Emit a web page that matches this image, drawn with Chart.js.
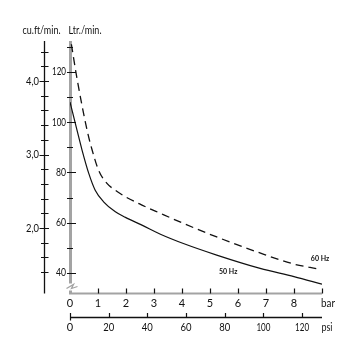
<!DOCTYPE html>
<html><head><meta charset="utf-8">
<script src="https://cdn.jsdelivr.net/npm/chart.js@4"></script>
<style>html,body{margin:0;padding:0;background:#fff}canvas{display:block}</style>
</head><body>
<canvas id="c" width="361" height="359"></canvas>
<script>
// ---- data ----
const barTicks = [0,1,2,3,4,5,6,7,8];
const psiTicks = [0,20,40,60,80,100,120];
const ltrMajor = [40,60,80,100,120];
const ltrMinor = [50,70,90,110,130];
const cuMajor = [2.0,3.0,4.0];
const cuMinor = [1.4,1.6,1.8,2.2,2.4,2.6,2.8,3.2,3.4,3.6,3.8,4.2,4.4];
const bar50  = [0, 0.25, 0.43, 0.67, 0.9, 1.2, 1.62, 1.98, 2.57, 3.23, 4.05, 5.24, 6.79, 8, 9];
const flow50 = [108, 96.8, 88.9, 79.6, 72.9, 68.3, 64.3, 62.1, 59.0, 55.4, 51.7, 47.1, 41.8, 38.5, 35.5];
const bar60  = [0.05, 0.24, 0.61, 0.79, 1.02, 1.32, 1.62, 1.98, 2.57, 3.23, 4.05, 5.24, 6.67, 8, 8.86];
const flow60 = [131, 118, 96.8, 88.9, 80.9, 75.6, 72.9, 70.3, 67.0, 63.7, 59.7, 54.3, 48.4, 43.5, 41.6];
const seriesLabels = ['50 Hz','60 Hz'];
const axisTitles = ['cu.ft/min.','Ltr./min.','bar','psi'];

const FONT = 'Lato, "DejaVu Sans", sans-serif';

const axesPlugin = {
  id:'axes',
  beforeDatasetsDraw(chart){
    const ctx = chart.ctx;
    const x = chart.scales.x, y = chart.scales.y, xp = chart.scales.xPsi, yc = chart.scales.yCu;
    const ca = chart.chartArea;
    const x0 = x.getPixelForValue(0) + 0.5;
    const yb = ca.bottom + 0.5;
    ctx.save();
    // Ltr axis (gray) with break
    ctx.strokeStyle = '#a3a3a3';
    ctx.lineWidth = 3;
    ctx.beginPath();
    ctx.moveTo(x0, ca.top); ctx.lineTo(x0, yb - 10);
    ctx.stroke();
    ctx.lineWidth = 1.3;
    ctx.beginPath();
    ctx.moveTo(x0 - 4, yb - 5); ctx.lineTo(x0 + 3, yb - 9); ctx.lineTo(x0 + 1, yb - 5); ctx.lineTo(x0 + 7, yb - 7);
    ctx.stroke();
    ctx.lineWidth = 3;
    ctx.beginPath();
    ctx.moveTo(x0, yb - 3); ctx.lineTo(x0, yb);
    ctx.stroke();
    // bar axis (gray)
    ctx.lineWidth = 2;
    ctx.beginPath();
    ctx.moveTo(x0 - 1.5, yb); ctx.lineTo(x.getPixelForValue(9), yb);
    ctx.stroke();

    ctx.strokeStyle = '#111';
    ctx.fillStyle = '#111';
    ctx.lineWidth = 1.2;
    // Ltr ticks
    ctx.beginPath();
    ltrMajor.forEach(v => { const p = Math.round(y.getPixelForValue(v)) + 0.5; ctx.moveTo(x0 - 3.5, p); ctx.lineTo(x0 + 5.5, p); });
    ltrMinor.forEach(v => { const p = Math.round(y.getPixelForValue(v)) + 0.5; ctx.moveTo(x0 - 3.5, p); ctx.lineTo(x0 + 2.5, p); });
    ctx.stroke();
    ctx.font = '11px ' + FONT;
    ctx.textAlign = 'right'; ctx.textBaseline = 'middle';
    ltrMajor.forEach(v => ctx.fillText(String(v), x0 - 4.5, y.getPixelForValue(v), v >= 100 ? 14 : 10));

    // cu.ft axis
    const xc = 44.5;
    ctx.lineWidth = 1.3;
    ctx.beginPath();
    ctx.moveTo(xc, ca.top); ctx.lineTo(xc, yb);
    ctx.stroke();
    ctx.lineWidth = 1.2;
    ctx.beginPath();
    cuMajor.forEach(v => { const p = Math.round(yc.getPixelForValue(v)) + 0.5; ctx.moveTo(xc - 5, p); ctx.lineTo(xc + 4.5, p); });
    cuMinor.forEach(v => { const p = Math.round(yc.getPixelForValue(v)) + 0.5; ctx.moveTo(xc - 3.5, p); ctx.lineTo(xc + 4, p); });
    ctx.stroke();
    cuMajor.forEach(v => ctx.fillText(v.toFixed(1).replace('.', ','), xc - 5.5, yc.getPixelForValue(v), 13));

    // titles
    ctx.textAlign = 'center';
    ctx.fillText(axisTitles[0], 41.5, 30, 38);
    ctx.fillText(axisTitles[1], 85, 30, 33);

    // bar ticks
    ctx.beginPath();
    barTicks.concat([9]).forEach(v => { if (v === 0) return; const p = Math.round(x.getPixelForValue(v)) + 0.5; ctx.moveTo(p, yb - 5); ctx.lineTo(p, yb); });
    ctx.stroke();
    ctx.textBaseline = 'middle';
    barTicks.forEach(v => ctx.fillText(String(v), x.getPixelForValue(v), yb + 10));
    ctx.fillText(axisTitles[2], x.getPixelForValue(9) + 6, yb + 10, 14);

    // psi axis
    const yp = yb + 24;
    ctx.lineWidth = 1.3;
    ctx.beginPath();
    ctx.moveTo(xp.getPixelForValue(0), yp); ctx.lineTo(xp.getPixelForValue(xp.max), yp);
    ctx.stroke();
    ctx.lineWidth = 1.2;
    ctx.beginPath();
    psiTicks.forEach(v => { const p = Math.round(xp.getPixelForValue(v)) + 0.5; ctx.moveTo(p, yp - 4.5); ctx.lineTo(p, v === 0 ? yp + 3 : yp); });
    ctx.stroke();
    psiTicks.forEach(v => ctx.fillText(String(v), xp.getPixelForValue(v), yp + 10, v >= 100 ? 14 : 11));
    ctx.fillText(axisTitles[3], xp.getPixelForValue(xp.max) + 5, yp + 10, 11);

    // series labels
    ctx.font = 'bold 7px ' + FONT;
    ctx.fillText(seriesLabels[0], x.getPixelForValue(5.65), y.getPixelForValue(40.3));
    ctx.fillText(seriesLabels[1], x.getPixelForValue(8.93), y.getPixelForValue(45.5));
    ctx.restore();
  }
};

new Chart(document.getElementById('c'), {
  type:'line',
  data:{
    datasets:[
      { label:seriesLabels[0], data: bar50.map((b,i)=>({x:b, y:flow50[i]})),
        borderColor:'#111', borderWidth:1.2, pointRadius:0, cubicInterpolationMode:'monotone', fill:false },
      { label:seriesLabels[1], data: bar60.map((b,i)=>({x:b, y:flow60[i]})),
        borderColor:'#111', borderWidth:1.3, borderDash:[8,5], pointRadius:0, cubicInterpolationMode:'monotone', fill:false }
    ]
  },
  options:{
    responsive:false, animation:false, devicePixelRatio:1,
    layout:{ padding:{ left:70, right:39, top:41, bottom:66 } },
    plugins:{ legend:{display:false}, tooltip:{enabled:false} },
    scales:{
      x:{ type:'linear', min:0, max:9, display:false },
      xPsi:{ type:'linear', position:'bottom', min:0, max:130.3, display:false },
      y:{ type:'linear', min:32, max:132.3, display:false },
      yCu:{ type:'linear', position:'left', min:1.116, max:4.544, display:false }
    }
  },
  plugins:[axesPlugin]
});
</script>
</body></html>
